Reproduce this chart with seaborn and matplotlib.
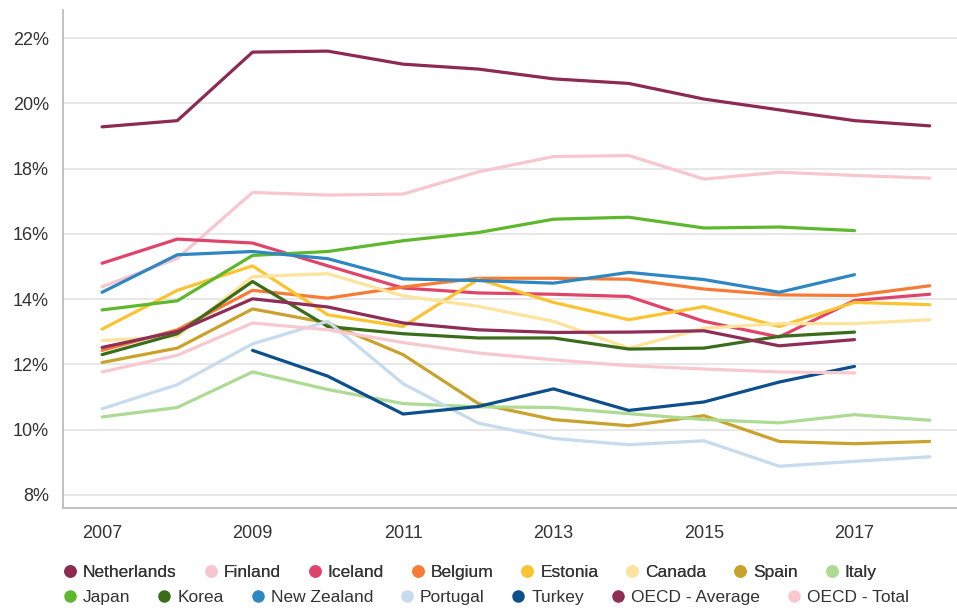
import numpy as np
import pandas as pd
import matplotlib
matplotlib.use("Agg")
import matplotlib.pyplot as plt
from matplotlib.lines import Line2D
import seaborn as sns

years = list(range(2007, 2019))

netherlands = [19.28, 19.47, 21.57, 21.6, 21.2, 21.05, 20.75, 20.61, 20.13, 19.8, 19.47, 19.31]
finland = [14.38, 15.25, 17.27, 17.19, 17.22, 17.9, 18.37, 18.4, 17.68, 17.89, 17.79, 17.71]
iceland = [15.1, 15.84, 15.72, 15.02, 14.34, 14.19, 14.15, 14.08, 13.32, 12.84, 13.96, 14.15]
belgium = [12.43, 13.06, 14.27, 14.03, 14.37, 14.64, 14.64, 14.61, 14.31, 14.13, 14.11, 14.41]
estonia = [13.08, 14.27, 15.02, 13.52, 13.16, 14.61, 13.9, 13.37, 13.77, 13.16, 13.9, 13.83]
canada = [12.73, 12.86, 14.69, 14.78, 14.1, 13.78, 13.32, 12.5, 13.11, 13.25, 13.25, 13.37]
spain = [12.06, 12.5, 13.7, 13.27, 12.3, 10.8, 10.31, 10.12, 10.43, 9.64, 9.57, 9.64]
italy = [10.39, 10.68, 11.77, 11.23, 10.8, 10.7, 10.68, 10.49, 10.31, 10.21, 10.46, 10.29]
japan = [13.67, 13.95, 15.34, 15.46, 15.79, 16.04, 16.45, 16.51, 16.18, 16.21, 16.1, None]
korea = [12.3, 12.94, 14.54, 13.16, 12.94, 12.81, 12.81, 12.47, 12.5, 12.86, 12.99, None]
new_zealand = [14.21, 15.36, 15.46, 15.24, 14.62, 14.57, 14.49, 14.82, 14.6, 14.21, 14.75, None]
portugal = [10.64, 11.38, 12.63, 13.32, 11.41, 10.2, 9.73, 9.54, 9.66, 8.88, 9.03, 9.17]
turkey = [None, None, 12.43, 11.64, 10.48, 10.71, 11.25, 10.59, 10.85, 11.46, 11.94, None]
oecd_average = [12.52, 13.01, 14.01, 13.76, 13.27, 13.06, 12.98, 12.99, 13.03, 12.57, 12.76, None]
oecd_total = [11.77, 12.28, 13.27, 13.06, 12.67, 12.35, 12.14, 11.96, 11.86, 11.77, 11.74, None]

series_names = ["Netherlands", "Finland", "Iceland", "Belgium", "Estonia", "Canada",
                "Spain", "Italy", "Japan", "Korea", "New Zealand", "Portugal",
                "Turkey", "OECD - Average", "OECD - Total"]
series_values = [netherlands, finland, iceland, belgium, estonia, canada, spain, italy,
                 japan, korea, new_zealand, portugal, turkey, oecd_average, oecd_total]
colors = ["#8C2A52", "#F8C6CF", "#E0446A", "#F77B35", "#FBC330", "#FDE39C",
          "#C9A22C", "#ADDB93", "#5DB82E", "#3A6D1B", "#2D87C3", "#C6DBEE",
          "#0D4F8B", "#8E2D56", "#F8C8D0"]

y_ticks = [8, 10, 12, 14, 16, 18, 20, 22]
y_tick_labels = ["8%", "10%", "12%", "14%", "16%", "18%", "20%", "22%"]
x_ticks = [2007, 2009, 2011, 2013, 2015, 2017]

rows = []
for name, vals in zip(series_names, series_values):
    for y, v in zip(years, vals):
        if v is not None:
            rows.append({"year": y, "value": v, "series": name})
df = pd.DataFrame(rows)
palette = dict(zip(series_names, colors))

sns.set_theme(style="white")
plt.rcParams["font.family"] = ["Liberation Sans", "DejaVu Sans"]

fig = plt.figure(figsize=(9.57, 6.10), dpi=100)
ax = fig.add_axes([0.0658, 0.1672, 0.934, 0.8164])

sns.lineplot(data=df, x="year", y="value", hue="series", palette=palette,
             hue_order=series_names, linewidth=2.3, legend=False, ax=ax,
             estimator=None, sort=True)

ax.set_xlim(2006.48, 2018.36)
ax.set_ylim(7.6, 22.86)
ax.set_yticks(y_ticks)
ax.set_yticklabels(y_tick_labels)
ax.set_xticks(x_ticks)
ax.set_xticklabels([str(x) for x in x_ticks])
ax.set_xlabel("")
ax.set_ylabel("")
ax.grid(axis="y", color="#E6E6E6", linewidth=1.3)
ax.set_axisbelow(True)
for s in ["top", "right"]:
    ax.spines[s].set_visible(False)
for s in ["left", "bottom"]:
    ax.spines[s].set_color("#BDBDBD")
    ax.spines[s].set_linewidth(1.3)
ax.tick_params(axis="y", length=0, pad=10, labelsize=13, labelcolor="#333333")
ax.tick_params(axis="x", length=0, pad=12, labelsize=13, labelcolor="#333333")

def make_handles(names):
    return [Line2D([0], [0], marker="o", linestyle="", markersize=8,
                   markerfacecolor=palette[n], markeredgecolor=palette[n], label=n)
            for n in names]

row1 = series_names[:8]
row2 = series_names[8:]
leg1 = fig.legend(handles=make_handles(row1), loc="center left",
                  bbox_to_anchor=(0.064, 0.062), ncol=8, frameon=False,
                  fontsize=12.5, handletextpad=0.25, columnspacing=1.45,
                  handlelength=1.0, borderaxespad=0, borderpad=0)
for t in leg1.get_texts():
    t.set_color("#333333")
leg2 = fig.legend(handles=make_handles(row2), loc="center left",
                  bbox_to_anchor=(0.064, 0.020), ncol=7, frameon=False,
                  fontsize=12.5, handletextpad=0.25, columnspacing=1.45,
                  handlelength=1.0, borderaxespad=0, borderpad=0)
for t in leg2.get_texts():
    t.set_color("#333333")
fig.add_artist(leg1)

fig.savefig("out.png", dpi=100)
